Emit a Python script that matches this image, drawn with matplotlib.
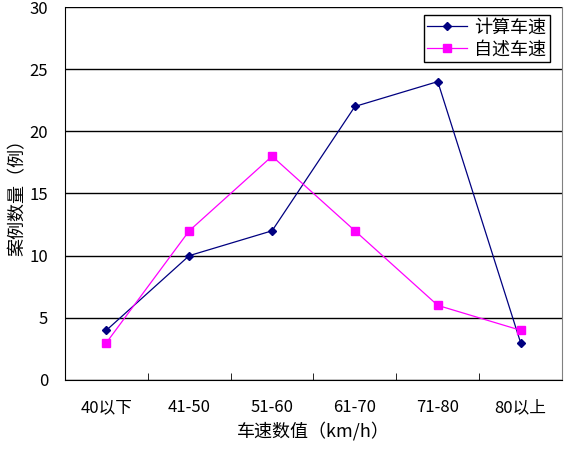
import numpy as np
import matplotlib
matplotlib.use("Agg")
import matplotlib.pyplot as plt

plt.rcParams['font.family'] = ['Noto Sans CJK SC', 'DejaVu Sans']

categories = ['40以下', '41-50', '51-60', '61-70', '71-80', '80以上']
calc_speed = [4, 10, 12, 22, 24, 3]
self_speed = [3, 12, 18, 12, 6, 4]

fig = plt.figure(figsize=(5.64, 4.49), dpi=100)
ax = fig.add_axes([0.1152, 0.1537, 0.8813, 0.8307])

x = np.arange(len(categories))
ax.plot(x, calc_speed, color='#000080', marker='D', markersize=4.5, lw=0.9, label='计算车速')
ax.plot(x, self_speed, color='#FF00FF', marker='s', markersize=5.5, lw=0.9, label='自述车速')

ax.set_xlim(-0.5, len(categories) - 0.5)
ax.set_ylim(0, 30)
ax.set_yticks(range(0, 31, 5))
ax.yaxis.grid(True, color='black', lw=1)
ax.set_axisbelow(True)

ax.set_xticks(x)
ax.set_xticklabels(categories, fontsize=12)
ax.set_xticks(np.arange(0.5, len(categories) - 0.5, 1), minor=True)
ax.tick_params(axis='x', which='major', length=0, pad=14)
ax.tick_params(axis='x', which='minor', direction='in', length=5, color='black')
ax.tick_params(axis='y', length=0, labelsize=12, pad=12)

for s in ['left', 'bottom']:
    ax.spines[s].set_color('black')
ax.spines['top'].set_visible(False)
ax.spines['right'].set_color('#808080')

ax.set_xlabel('车速数值（km/h）', fontsize=13, labelpad=4)
ax.set_ylabel('案例数量（例）', fontsize=13, labelpad=2)

leg = ax.legend(loc='upper right', bbox_to_anchor=(0.983, 0.988), fontsize=13,
                fancybox=False, framealpha=1, edgecolor='black',
                handlelength=2.2, borderpad=0.2, labelspacing=0.2, handletextpad=0.4,
                borderaxespad=0.2)
leg.get_frame().set_linewidth(1)

fig.savefig('out.png', dpi=100)
